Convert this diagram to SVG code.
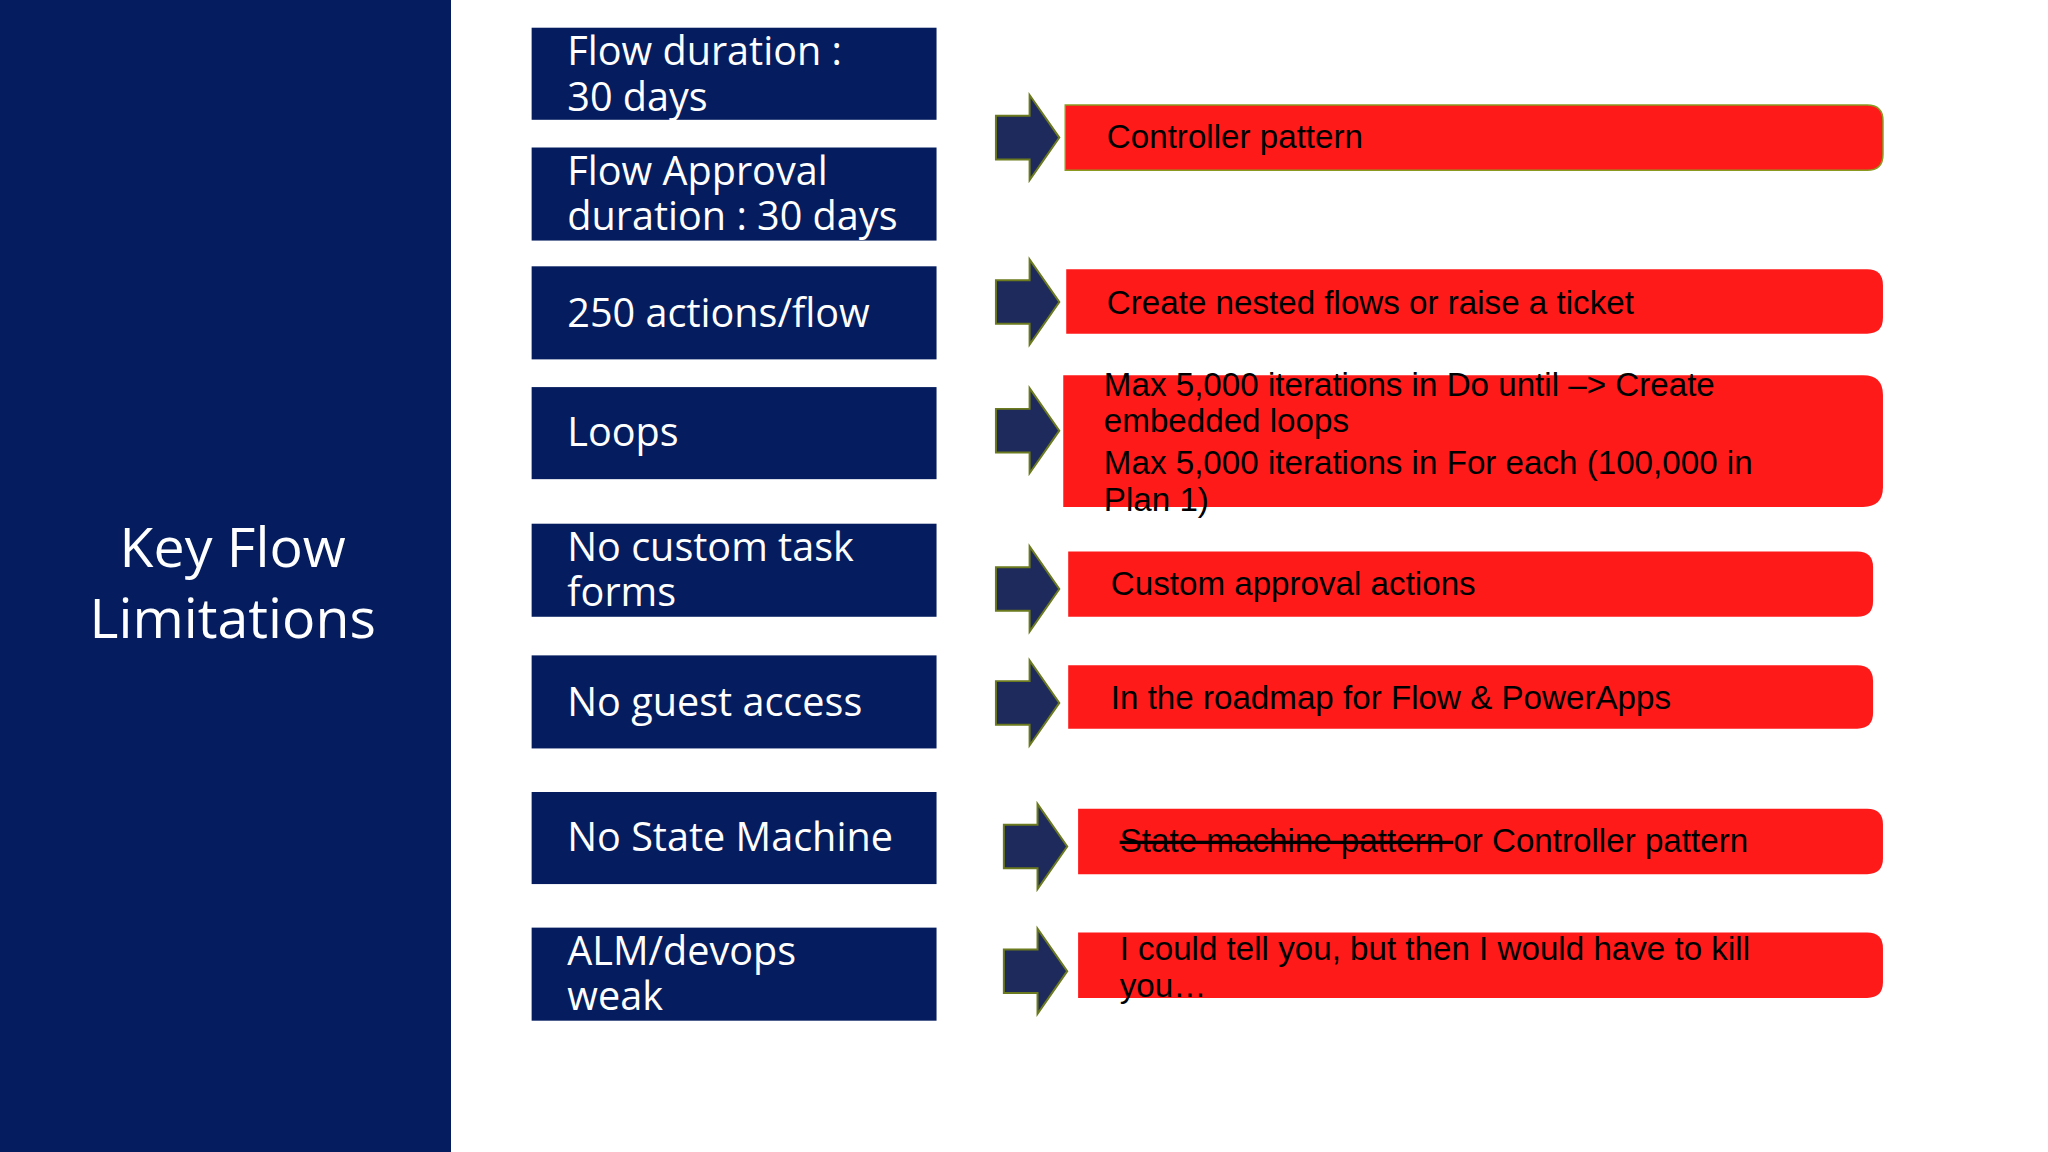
<svg xmlns="http://www.w3.org/2000/svg" width="2048" height="1152" viewBox="0 0 2048 1152">
<defs><style>
.nb{fill:#051d5f}
.nt{fill:#fff;font-family:"Open Sans","Noto Sans",sans-serif;font-size:40px}
.rb{fill:#ff1a1a}
.rt{fill:#000;font-family:"Liberation Sans",Arial,sans-serif;font-size:33.5px}
.ar{fill:#1f2a5c;stroke:#6b7a1e;stroke-width:2}
</style>
<path id="arw" d="M0,-22 L34,-22 L34,-43 L64,0 L34,43 L34,22 L0,22 Z"/>
</defs>
<rect width="2048" height="1152" fill="#fff"/>
<rect x="0" y="0" width="451" height="1152" class="nb"/>
<g transform="scale(0.99)">
<g id="panel">
<text x="235" y="573" text-anchor="middle" fill="#fff" font-family="Open Sans,Noto Sans,sans-serif" font-size="56">Key Flow</text>
<text x="235" y="644" text-anchor="middle" fill="#fff" font-family="Open Sans,Noto Sans,sans-serif" font-size="56">Limitations</text></g>
<g id="n1"><rect x="537" y="28" width="409" height="93" class="nb"/><text class="nt" x="573" y="66">Flow duration :</text><text class="nt" x="573" y="112">30 days</text></g>
<g id="n2"><rect x="537" y="149" width="409" height="94" class="nb"/><text class="nt" x="573" y="187">Flow Approval</text><text class="nt" x="573" y="232">duration : 30 days</text></g>
<g id="n3"><rect x="537" y="269" width="409" height="94" class="nb"/><text class="nt" x="573" y="330">250 actions/flow</text></g>
<g id="n4"><rect x="537" y="391" width="409" height="93" class="nb"/><text class="nt" x="573" y="451">Loops</text></g>
<g id="n5"><rect x="537" y="529" width="409" height="94" class="nb"/><text class="nt" x="573" y="567">No custom task</text><text class="nt" x="573" y="612">forms</text></g>
<g id="n6"><rect x="537" y="662" width="409" height="94" class="nb"/><text class="nt" x="573" y="723">No guest access</text></g>
<g id="n7"><rect x="537" y="800" width="409" height="93" class="nb"/><text class="nt" x="573" y="860">No State Machine</text></g>
<g id="n8"><rect x="537" y="937" width="409" height="94" class="nb"/><text class="nt" x="573" y="975">ALM/devops</text><text class="nt" x="573" y="1020">weak</text></g>
<g id="connectors">
<use href="#arw" class="ar" x="1006" y="139"/>
<use href="#arw" class="ar" x="1006" y="305"/>
<use href="#arw" class="ar" x="1006" y="435"/>
<use href="#arw" class="ar" x="1006" y="595"/>
<use href="#arw" class="ar" x="1006" y="710"/>
<use href="#arw" class="ar" x="1014" y="855"/>
<use href="#arw" class="ar" x="1014" y="981"/>
</g>
<g id="r1"><path class="rb" d="M1076,106 H1886 Q1902,106 1902,122 V156 Q1902,172 1886,172 H1076 Z" stroke="#8a9a20" stroke-width="1.5"/><text class="rt" x="1118" y="150">Controller pattern</text></g>
<g id="r2"><path class="rb" d="M1077,272 H1886 Q1902,272 1902,288 V321 Q1902,337 1886,337 H1077 Z"/><text class="rt" x="1118" y="317">Create nested flows or raise a ticket</text></g>
<g id="r3"><path class="rb" d="M1074,379 H1882 Q1902,379 1902,399 V492 Q1902,512 1882,512 H1074 Z"/>
<text class="rt" x="1115" y="400">Max 5,000 iterations in Do until –&gt; Create</text>
<text class="rt" x="1115" y="436">embedded loops</text>
<text class="rt" x="1115" y="479">Max 5,000 iterations in For each (100,000  in</text>
<text class="rt" x="1115" y="516">Plan 1)</text></g>
<g id="r4"><path class="rb" d="M1079,557 H1876 Q1892,557 1892,573 V607 Q1892,623 1876,623 H1079 Z"/><text class="rt" x="1122" y="601">Custom approval actions</text></g>
<g id="r5"><path class="rb" d="M1079,672 H1876 Q1892,672 1892,688 V720 Q1892,736 1876,736 H1079 Z"/><text class="rt" x="1122" y="716">In the roadmap for Flow &amp; PowerApps</text></g>
<g id="r6"><path class="rb" d="M1089,817 H1886 Q1902,817 1902,833 V867 Q1902,883 1886,883 H1089 Z"/><text class="rt" x="1131" y="861"><tspan text-decoration="line-through">State machine pattern </tspan>or Controller pattern</text></g>
<g id="r7"><path class="rb" d="M1089,942 H1886 Q1902,942 1902,958 V992 Q1902,1008 1886,1008 H1089 Z"/><text class="rt" x="1131" y="970">I could tell you, but then I would have to kill</text><text class="rt" x="1131" y="1007">you…</text></g>
</g>
</svg>
